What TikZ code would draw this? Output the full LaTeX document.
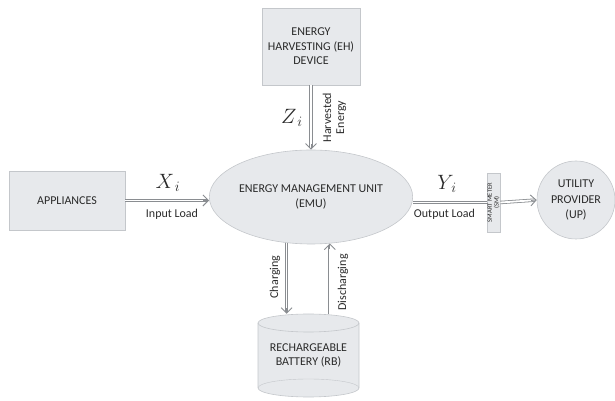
\documentclass[tikz,border=0pt]{standalone}
\usepackage{fontspec}
\setmainfont{Carlito}
\usetikzlibrary{arrows.meta,calc,shapes.geometric}
\definecolor{boxfill}{HTML}{E7E9EC}
\definecolor{boxline}{HTML}{C4C7CB}
\definecolor{txt}{HTML}{2A2A2A}
\definecolor{arr}{HTML}{8A8D91}
\newcommand\flowline[2]{\draw[flow] (#1) -- (#2);}
\newcommand\flowto[2]{%
  \draw[flow, shorten >=1.8pt] (#1) -- (#2);
  \draw[arr, line width=0.9pt, -{Straight Barb[length=5.5pt,width=11pt]}] ($(#2)!5.6pt!(#1)$) -- (#2);}
\begin{document}
\begin{tikzpicture}[x=1pt,y=1pt,
  every node/.style={text=txt, inner sep=0pt},
  block/.style={draw=boxline, fill=boxfill, line width=0.6pt, align=center, font=\fontsize{12}{14.5}\selectfont},
  flow/.style={draw=arr, line width=0.8pt, double=white, double distance=1.8pt},
  lbl/.style={font=\fontsize{12}{13}\selectfont, align=center},
  sym/.style={font=\fontsize{22}{22}\selectfont}]
\path[use as bounding box] (0,0) rectangle (615,401);
% nodes
\node[block, minimum width=98, minimum height=77] (eh) at (311,354.5) {ENERGY\\HARVESTING (EH)\\DEVICE};
\node[block, ellipse, minimum width=187, minimum height=94] (emu) at (311,204) {ENERGY MANAGEMENT UNIT\\(EMU)};
\node[block, minimum width=116, minimum height=59] (app) at (67,200.5) {APPLIANCES};
\node[block, minimum width=13, minimum height=59] (sm) at (493.5,198.5) {};
\node[rotate=90, align=center, font=\fontsize{6.5}{6.7}\selectfont] (smt) at (sm.center) {SMART METER\\(SM)};
\node[block, circle, minimum size=78, font=\fontsize{12}{15.5}\selectfont] (up) at (576,201) {UTILITY\\PROVIDER\\(UP)};
% battery cylinder
\node[minimum width=101, minimum height=83] (rb) at (308.5,45.5) {};
\fill[boxfill] (258,78) -- (258,13) arc (180:360:50.5 and 9) -- (359,78) arc (0:180:50.5 and 9) -- cycle;
\draw[boxline, line width=0.6pt] (258,78) -- (258,13) arc (180:360:50.5 and 9) -- (359,78);
\draw[boxline, line width=0.4pt] (258,13) arc (180:0:50.5 and 9);
\draw[boxline, line width=0.6pt] (308.5,78) ellipse (50.5 and 9);
\node[align=center, font=\fontsize{12}{14}\selectfont] (rbt) at (308.5,46) {RECHARGEABLE\\BATTERY (RB)};
% connector end points
\coordinate (zin) at (emu.north);
\coordinate (xin) at (emu.west |- app.east);
\coordinate (yout) at (sm.west -| emu.east);
\coordinate (chs) at (emu.242);
\coordinate (che) at (emu.242 |- rb.north);
\coordinate (dce) at (emu.292.4);
\coordinate (dcs) at (emu.292.4 |- rb.north);
% connectors
\flowto{eh.south}{zin}
\flowto{app.east}{xin}
\flowline{yout}{sm.west}
\flowto{sm.east}{up.west}
\flowto{chs}{che}
\flowto{dcs}{dce}
% labels
\node[sym] (zi) at (292,283) {$Z_{\,i}$};
\node[lbl, rotate=90] (he) at (334.5,283.5) {Harvested\\Energy};
\node[sym] (xi) at (168,218) {$X_{\,i}$};
\node[lbl] (il) at (172,187) {Input Load};
\node[sym] (yi) at (447,217) {$Y_{\,i}$};
\node[lbl] (ol) at (444.5,187) {Output Load};
\node[lbl, rotate=90] (ch) at (275,124) {Charging};
\node[lbl, rotate=90] (dc) at (343,118.5) {Discharging};
\end{tikzpicture}
\end{document}
